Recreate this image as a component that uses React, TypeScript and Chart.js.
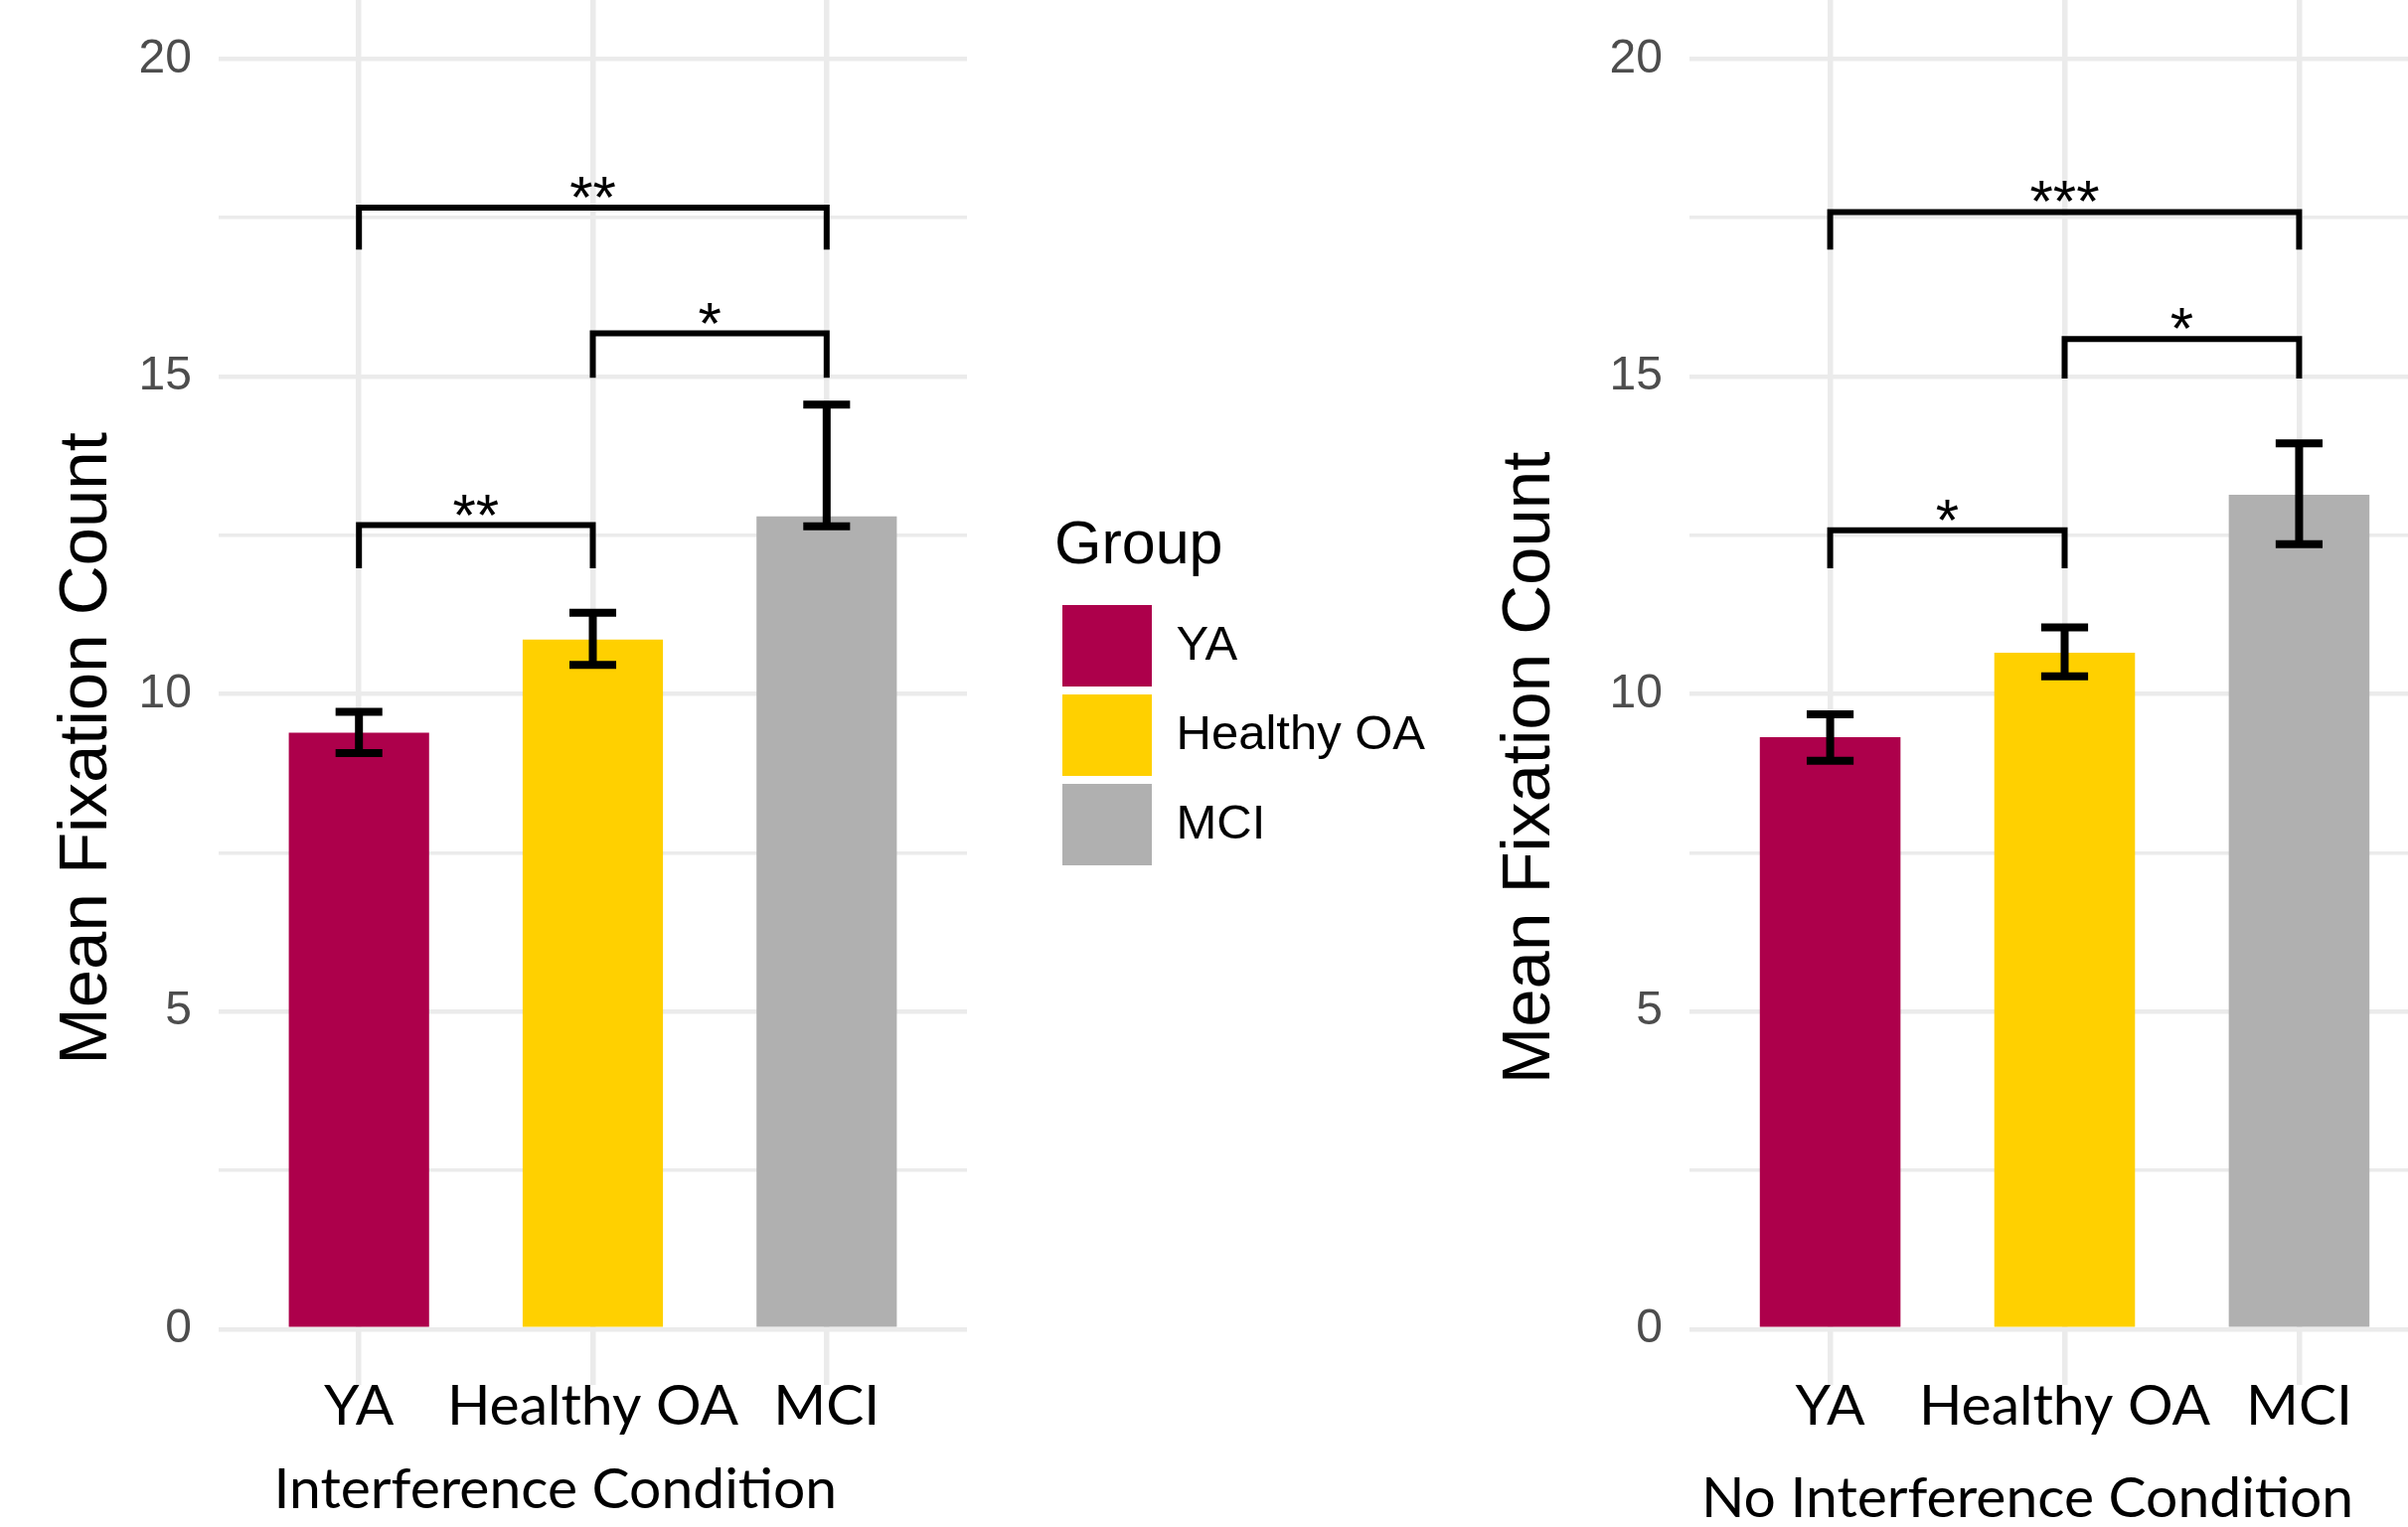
import React, { useEffect, useRef } from 'react';
import { Chart, registerables } from 'chart.js';

Chart.register(...registerables);

// ---------- data ----------
const CATEGORIES = ['YA', 'Healthy OA', 'MCI'];
const COLORS = ['#AD004B', '#FFD000', '#B0B0B0'];

const INTERF_MEAN = [9.39, 10.86, 12.8];
const INTERF_ERR_LOW = [9.07, 10.46, 12.64];
const INTERF_ERR_HIGH = [9.72, 11.28, 14.56];

const NOINTERF_MEAN = [9.32, 10.65, 13.14];
const NOINTERF_ERR_LOW = [8.95, 10.28, 12.36];
const NOINTERF_ERR_HIGH = [9.68, 11.05, 13.95];

const INTERF_BRACKET_FROM = [0, 1, 0];
const INTERF_BRACKET_TO = [1, 2, 2];
const INTERF_BRACKET_TOP = [12.66, 15.68, 17.66];
const INTERF_BRACKET_TIP = [11.98, 14.98, 17.0];
const INTERF_BRACKET_LABEL = ['**', '*', '**'];

const NOINTERF_BRACKET_FROM = [0, 1, 0];
const NOINTERF_BRACKET_TO = [1, 2, 2];
const NOINTERF_BRACKET_TOP = [12.58, 15.59, 17.59];
const NOINTERF_BRACKET_TIP = [11.98, 14.97, 17.0];
const NOINTERF_BRACKET_LABEL = ['*', '*', '***'];

const Y_TICKS = [0, 2.5, 5, 7.5, 10, 12.5, 15, 17.5, 20];
const Y_TICK_LABELS = ['0', '', '5', '', '10', '', '15', '', '20'];

const Y_TITLE = 'Mean Fixation Count';
const X_TITLE_INTERF = 'Interference Condition';
const X_TITLE_NOINTERF = 'No Interference Condition';
const LEGEND_TITLE = 'Group';

const ERRORBAR_HALF_WIDTH = 0.1;

// ---------- style constants ----------
const SANS = "'Liberation Sans', Arial, sans-serif";
const CALIBRI_LIKE = "Lato, 'Open Sans', sans-serif";
const LEGEND_FONT_SIZE = 49;
const LEGEND_TITLE_SIZE = 61;
const LEGEND_BOX_W = 90;
const LEGEND_BOX_H = 82;
const LEGEND_PAD = 8;
const LEFT_CANVAS_W = 1460;
const LEGEND_LEFT = 1061;

// ---------- helpers ----------
function errorBarPoints(low: number[], high: number[]) {
  const pts: any[] = [];
  low.forEach((lo, i) => {
    const hi = high[i];
    pts.push(
      { x: i - ERRORBAR_HALF_WIDTH, y: hi }, { x: i + ERRORBAR_HALF_WIDTH, y: hi }, { x: i, y: null },
      { x: i, y: hi }, { x: i, y: lo }, { x: i, y: null },
      { x: i - ERRORBAR_HALF_WIDTH, y: lo }, { x: i + ERRORBAR_HALF_WIDTH, y: lo }, { x: i, y: null }
    );
  });
  return pts;
}

function bracketPoints(from: number[], to: number[], top: number[], tip: number[]) {
  const pts: any[] = [];
  from.forEach((f, k) => {
    pts.push(
      { x: f, y: tip[k] }, { x: f, y: top[k] }, { x: to[k], y: top[k] }, { x: to[k], y: tip[k] },
      { x: to[k], y: null }
    );
  });
  return pts;
}

function naturalLegendWidth(): number {
  const ctx = document.createElement('canvas').getContext('2d') as CanvasRenderingContext2D;
  ctx.font = `normal ${LEGEND_FONT_SIZE}px ${SANS}`;
  const maxText = Math.max(...CATEGORIES.map((t) => ctx.measureText(t).width));
  return LEGEND_PAD + LEGEND_BOX_W + LEGEND_FONT_SIZE / 2 + maxText + 10;
}

type PanelDef = {
  mean: number[]; low: number[]; high: number[];
  bFrom: number[]; bTo: number[]; bTop: number[]; bTip: number[]; bLabel: string[];
  xTitle: string;
  yAxisWidth: number;
  yTickPad: number;
  yTitleDx: number; yTitleDy: number;
  xTitleDx: number; xTitleDy: number;
  legend: boolean;
};

const LEFT_PANEL: PanelDef = {
  mean: INTERF_MEAN, low: INTERF_ERR_LOW, high: INTERF_ERR_HIGH,
  bFrom: INTERF_BRACKET_FROM, bTo: INTERF_BRACKET_TO, bTop: INTERF_BRACKET_TOP,
  bTip: INTERF_BRACKET_TIP, bLabel: INTERF_BRACKET_LABEL,
  xTitle: X_TITLE_INTERF,
  yAxisWidth: 220, yTickPad: 27,
  yTitleDx: 112.7, yTitleDy: 56.5,
  xTitleDx: -37.7, xTitleDy: 124.3,
  legend: true,
};

const RIGHT_PANEL: PanelDef = {
  mean: NOINTERF_MEAN, low: NOINTERF_ERR_LOW, high: NOINTERF_ERR_HIGH,
  bFrom: NOINTERF_BRACKET_FROM, bTo: NOINTERF_BRACKET_TO, bTop: NOINTERF_BRACKET_TOP,
  bTip: NOINTERF_BRACKET_TIP, bLabel: NOINTERF_BRACKET_LABEL,
  xTitle: X_TITLE_NOINTERF,
  yAxisWidth: 240, yTickPad: 27,
  yTitleDx: 140.7, yTitleDy: 76,
  xTitleDx: -37.5, xTitleDy: 132.7,
  legend: false,
};

function textPlugin(p: PanelDef) {
  return {
    id: 'panelText',
    afterDraw(chart: any) {
      const { ctx, chartArea, scales } = chart;
      // y-axis title
      ctx.save();
      ctx.font = `69px ${SANS}`;
      ctx.fillStyle = '#000';
      ctx.textAlign = 'center';
      ctx.textBaseline = 'alphabetic';
      ctx.translate(chartArea.left - p.yTitleDx, (chartArea.top + chartArea.bottom) / 2 + p.yTitleDy);
      ctx.rotate(-Math.PI / 2);
      ctx.fillText(Y_TITLE, 0, 0);
      ctx.restore();
      // x-axis title
      ctx.save();
      ctx.font = `57px ${CALIBRI_LIKE}`;
      ctx.fillStyle = '#000';
      ctx.textAlign = 'center';
      ctx.textBaseline = 'alphabetic';
      ctx.fillText(p.xTitle, (chartArea.left + chartArea.right) / 2 + p.xTitleDx, chartArea.bottom + p.xTitleDy);
      ctx.restore();
      // significance labels
      ctx.save();
      ctx.font = `60px ${SANS}`;
      ctx.fillStyle = '#000';
      ctx.textAlign = 'center';
      ctx.textBaseline = 'alphabetic';
      p.bLabel.forEach((lab, k) => {
        const x = scales.x.getPixelForValue((p.bFrom[k] + p.bTo[k]) / 2);
        const y = scales.y.getPixelForValue(p.bTop[k]) + 10;
        ctx.fillText(lab, x, y);
      });
      ctx.restore();
    },
  };
}

function makeConfig(p: PanelDef): any {
  const datasets: any[] = [
    ...CATEGORIES.map((c, i) => ({
      type: 'bar',
      label: c,
      data: [{ x: i, y: p.mean[i] }],
      backgroundColor: COLORS[i],
      borderWidth: 0,
      grouped: false,
      categoryPercentage: 1,
      barPercentage: 0.6,
      order: 2,
    })),
    {
      type: 'line',
      label: 'error bars',
      data: errorBarPoints(p.low, p.high),
      borderColor: '#000',
      borderWidth: 8,
      pointRadius: 0,
      pointHoverRadius: 0,
      spanGaps: false,
      fill: false,
      borderCapStyle: 'butt',
      order: 0,
    },
    {
      type: 'line',
      label: 'brackets',
      data: bracketPoints(p.bFrom, p.bTo, p.bTop, p.bTip),
      borderColor: '#000',
      borderWidth: 6,
      pointRadius: 0,
      pointHoverRadius: 0,
      spanGaps: false,
      fill: false,
      borderCapStyle: 'butt',
      borderJoinStyle: 'miter',
      order: 1,
    },
  ];

  const scales: any = {
    x: {
      type: 'linear',
      min: -0.6,
      max: 2.6,
      offset: false,
      afterBuildTicks: (axis: any) => {
        axis.ticks = CATEGORIES.map((_, i) => ({ value: i }));
      },
      ticks: {
        callback: (_v: any, i: number) => CATEGORIES[i],
        font: { family: CALIBRI_LIKE, size: 57 },
        color: '#000',
        padding: -13,
        autoSkip: false,
        maxRotation: 0,
        minRotation: 0,
      },
      grid: { color: '#EBEBEB', lineWidth: 5.5, drawTicks: false, offset: false },
      border: { display: false },
      afterFit: (s: any) => {
        s.height = 143;
        s.paddingLeft = 0;
        s.paddingRight = 0;
      },
    },
    y: {
      type: 'linear',
      min: -0.88,
      max: 20.93,
      afterBuildTicks: (axis: any) => {
        axis.ticks = Y_TICKS.map((v) => ({ value: v }));
      },
      ticks: {
        callback: (_v: any, i: number) => Y_TICK_LABELS[i],
        font: { family: SANS, size: 48 },
        color: '#4D4D4D',
        padding: p.yTickPad,
        autoSkip: false,
      },
      grid: {
        color: '#EBEBEB',
        lineWidth: (ctx: any) => (ctx.tick && ctx.tick.value % 5 === 0 ? 4.5 : 3.5),
        drawTicks: false,
      },
      border: { display: false },
      afterFit: (s: any) => {
        s.width = p.yAxisWidth;
        s.paddingTop = 0;
        s.paddingBottom = 0;
      },
    },
  };

  let padRight = 0;
  if (p.legend) {
    padRight = Math.max(0, LEFT_CANVAS_W - LEGEND_LEFT - naturalLegendWidth());
    scales.spacer = {
      type: 'linear',
      position: 'right',
      display: true,
      grid: { display: false, drawTicks: false },
      border: { display: false },
      ticks: { display: false },
      afterFit: (s: any) => {
        s.width = 88;
        s.paddingTop = 0;
        s.paddingBottom = 0;
      },
    };
  }

  const titleLine = LEGEND_TITLE_SIZE * 1.2;
  const titlePadTop = 550.5 - LEGEND_TITLE_SIZE / 2;
  const titlePadBottom = 601 - titleLine - titlePadTop;

  return {
    type: 'bar',
    data: { datasets },
    options: {
      animation: false,
      responsive: false,
      maintainAspectRatio: false,
      events: [],
      layout: { padding: { top: 0, left: 0, bottom: 0, right: padRight } },
      scales,
      plugins: {
        tooltip: { enabled: false },
        legend: p.legend
          ? {
              display: true,
              position: 'right',
              align: 'start',
              maxWidth: 1000,
              title: {
                display: true,
                text: LEGEND_TITLE,
                position: 'start',
                color: '#000',
                font: { family: SANS, size: LEGEND_TITLE_SIZE },
                padding: { top: titlePadTop, bottom: titlePadBottom },
              },
              labels: {
                boxWidth: LEGEND_BOX_W,
                boxHeight: LEGEND_BOX_H,
                padding: LEGEND_PAD,
                color: '#000',
                font: { family: SANS, size: LEGEND_FONT_SIZE },
                filter: (item: any) => item.datasetIndex < CATEGORIES.length,
              },
            }
          : { display: false },
      },
    },
    plugins: [textPlugin(p)],
  };
}

function Panel({ def, left, width }: { def: PanelDef; left: number; width: number }) {
  const ref = useRef<HTMLCanvasElement | null>(null);
  useEffect(() => {
    if (!ref.current) return;
    const chart = new Chart(ref.current, makeConfig(def));
    return () => chart.destroy();
  }, [def]);
  return (
    <canvas
      ref={ref}
      width={width}
      height={1537}
      style={{ position: 'absolute', left, top: 0, width, height: 1537 }}
    />
  );
}

export default function App() {
  return (
    <div
      style={{
        position: 'fixed',
        left: 0,
        top: 0,
        width: 2423,
        height: 1537,
        overflow: 'hidden',
        background: '#fff',
      }}
    >
      <Panel def={LEFT_PANEL} left={0} width={LEFT_CANVAS_W} />
      <Panel def={RIGHT_PANEL} left={1460} width={995} />
    </div>
  );
}
